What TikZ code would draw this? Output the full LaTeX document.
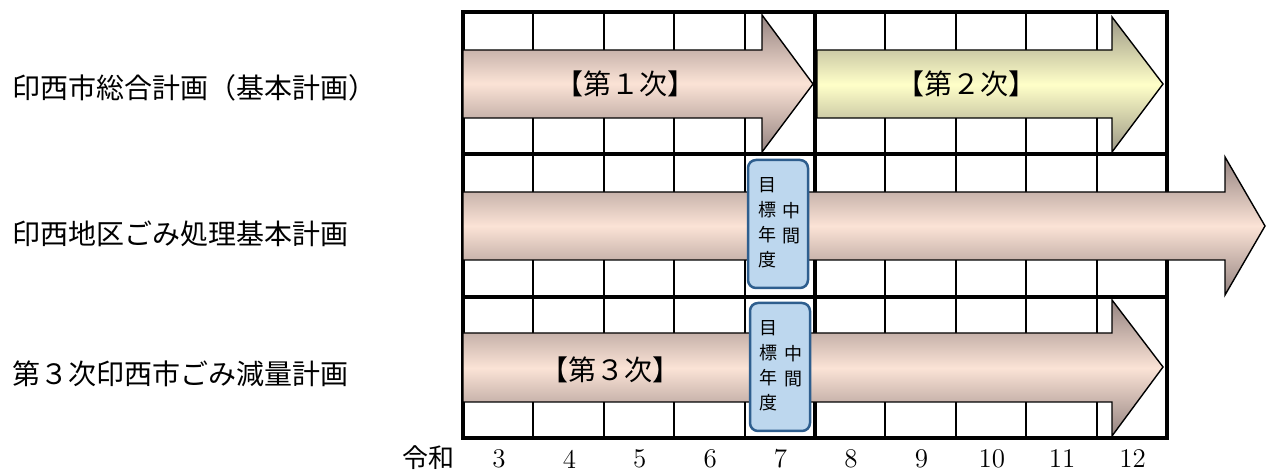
\documentclass[tikz,border=0pt]{standalone}
\usepackage{fontspec}
\newfontfamily\jpfont{Noto Sans CJK JP}
\usetikzlibrary{positioning, calc}
\definecolor{pinklight}{HTML}{FBE3D6}
\definecolor{pinkdark}{HTML}{948380}
\definecolor{yellowlight}{HTML}{FFFFC8}
\definecolor{yellowdark}{HTML}{9C9886}
\definecolor{goalfill}{HTML}{BDD7EE}
\definecolor{goalline}{HTML}{2E5E8E}
\tikzset{gridthin/.style={line width=1pt}}
\tikzset{gridthick/.style={line width=2pt}}
\tikzset{planarrow/.style={draw=black, line width=0.7pt, line join=miter}}
\tikzset{pinkarrow/.style={planarrow, top color=pinkdark, bottom color=pinkdark, middle color=pinklight}}
\tikzset{yellowarrow/.style={planarrow, top color=yellowdark, bottom color=yellowdark, middle color=yellowlight}}
\tikzset{plantitle/.style={anchor=west, inner sep=0pt, font=\jpfont\fontsize{14}{16}\selectfont}}
\tikzset{phaselabel/.style={inner sep=0pt, font=\jpfont\fontsize{14}{16}\selectfont}}
\tikzset{goalbox/.style={draw=goalline, fill=goalfill, line width=1.25pt, rounded corners=4pt, minimum width=30pt, minimum height=64pt, inner sep=0pt}}
\tikzset{goaltext/.style={inner sep=0pt, align=center, font=\jpfont\fontsize{9}{12.5}\selectfont}}
\tikzset{yearlabel/.style={inner sep=0pt, font=\fontsize{13.5}{16}\selectfont}}

\begin{document}
\begin{tikzpicture}[x=0.5pt, y=-0.5pt]
      \useasboundingbox (0,0) rectangle (1267,474);

      % grid
      \foreach \i in {1,2,3,4,6,7,8,9}
        \draw[gridthin] ({463+70.4*\i},12) -- ({463+70.4*\i},438);
      \draw[gridthick] (463,12) rectangle (1167,438);
      \draw[gridthick] (463,154) -- (1167,154);
      \draw[gridthick] (463,297) -- (1167,297);
      \draw[gridthick] (815,12) -- (815,438);

      % arrows
      \draw[pinkarrow] (463,50) -- (762,50) -- (762,15) -- (813,84)
        -- (762,152) -- (762,118) -- (463,118) -- cycle;
      \draw[yellowarrow] (817,50) -- (1112,50) -- (1112,17) -- (1163,84)
        -- (1112,152) -- (1112,118) -- (817,118) -- cycle;
      \draw[pinkarrow] (463,192) -- (1225,192) -- (1225,157) -- (1265,226)
        -- (1225,295) -- (1225,260) -- (463,260) -- cycle;
      \draw[pinkarrow] (463,333) -- (1112,333) -- (1112,300) -- (1163,367)
        -- (1112,436) -- (1112,402) -- (463,402) -- cycle;

      \node[phaselabel] (phase1) at (625,84) {【第１次】};
      \node[phaselabel] (phase2) at (966,84) {【第２次】};
      \node[phaselabel] (phase3) at (610,370) {【第３次】};

      % plan names
      \node[plantitle] (plan1) at (12,88) {印西市総合計画（基本計画）};
      \node[plantitle] (plan2) at (12,234) {印西地区ごみ処理基本計画};
      \node[plantitle] (plan3) at (12,374) {第３次印西市ごみ減量計画};

      % target year boxes
      \node[goalbox] (goal1) at (778,224) {};
      \node[goaltext] (goal1a) at ($(goal1)+(-11,-1)$) {目\\標\\年\\度};
      \node[goaltext] (goal1b) at ($(goal1)+(13,-1)$) {中\\間};

      \node[goalbox] (goal2) at (780,367) {};
      \node[goaltext] (goal2a) at ($(goal2)+(-12,-1)$) {目\\標\\年\\度};
      \node[goaltext] (goal2b) at ($(goal2)+(13,-1)$) {中\\間};

      % years
      \node[plantitle, anchor=center, font=\jpfont\fontsize{13}{15}\selectfont] (era) at (428,458) {令和};
      \foreach \yr [count=\k from 0] in {3,...,12}
        \node[yearlabel] (year\yr) at ({499+70.4*\k},459) {\yr};

    \end{tikzpicture}
\end{document}
